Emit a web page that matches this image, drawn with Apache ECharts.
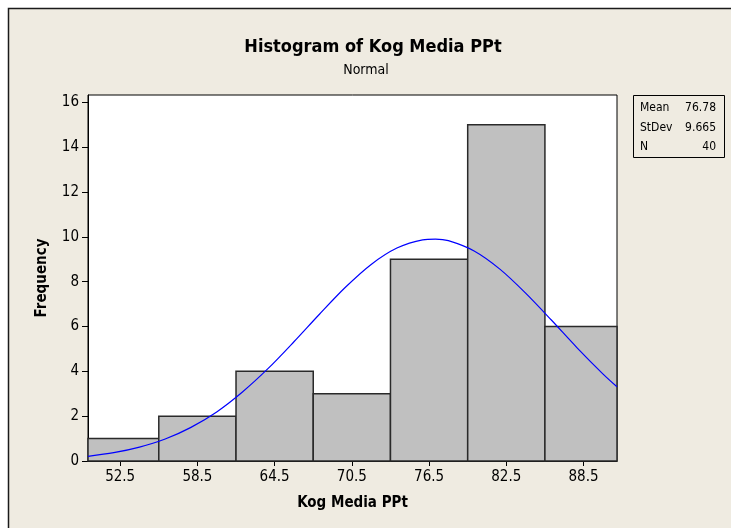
<!DOCTYPE html>
<html><head><meta charset="utf-8">
<script src="https://cdn.jsdelivr.net/npm/echarts@6/dist/echarts.min.js"></script>
<style>html,body{margin:0;padding:0;background:#fff}#c{width:731px;height:528px}</style>
</head><body><div id="c"></div>
<script>
// ---- data ----
const binCenters = [52.5, 58.5, 64.5, 70.5, 76.5, 82.5, 88.5];
const frequencies = [1, 2, 4, 3, 9, 15, 6];
const binWidth = 6;
const yTicks = [0, 2, 4, 6, 8, 10, 12, 14, 16];
// fitted normal curve
const curveX = [50, 52, 54, 56, 58, 60, 62, 64, 66, 68, 70, 72, 74, 76, 77, 78, 80, 82, 84, 86, 88, 90, 91.1];
const curveY = [0.21, 0.37, 0.62, 0.98, 1.50, 2.19, 3.08, 4.13, 5.32, 6.56, 7.75, 8.77, 9.50, 9.87, 9.90, 9.83, 9.37, 8.56, 7.49, 6.29, 5.05, 3.89, 3.31];
const statLabels = ['Mean', 'StDev', 'N'];
const statValues = ['76.78', '9.665', '40'];
const titleText = 'Histogram of Kog Media PPt';
const subtitleText = 'Normal';
const xName = 'Kog Media PPt';
const yName = 'Frequency';

const FONT = '"DejaVu Sans Condensed", "DejaVu Sans", sans-serif';
const chart = echarts.init(document.getElementById('c'), null, {renderer: 'canvas'});

const barData = binCenters.map((c, i) => [c, frequencies[i]]);
const curveData = curveX.map((x, i) => [x, curveY[i]]);

const graphics = [
  {type: 'rect', shape: {x: 0, y: 0, width: 731, height: 8}, style: {fill: '#fff'}, silent: true},
  {type: 'rect', shape: {x: 0, y: 0, width: 8, height: 528}, style: {fill: '#fff'}, silent: true},
  {type: 'polyline', shape: {points: [[8.5, 528], [8.5, 8.5], [731, 8.5]]}, style: {stroke: '#1a1a1a', lineWidth: 1.5, fill: null}, silent: true},
  {type: 'text', x: 373, y: 47, style: {text: titleText, font: 'bold 18px ' + FONT, fill: '#000', align: 'center', verticalAlign: 'middle'}},
  {type: 'text', x: 366, y: 70, style: {text: subtitleText, font: '14px ' + FONT, fill: '#000', align: 'center', verticalAlign: 'middle'}},
  {type: 'rect', shape: {x: 633.5, y: 95.5, width: 91, height: 62}, style: {fill: 'none', stroke: '#000', lineWidth: 1}}
];
statLabels.forEach((s, i) => {
  graphics.push({type: 'text', x: 640, y: 108 + i * 19.5, style: {text: s, font: '12px ' + FONT, fill: '#000', align: 'left', verticalAlign: 'middle'}});
  graphics.push({type: 'text', x: 716, y: 108 + i * 19.5, style: {text: statValues[i], font: '12px ' + FONT, fill: '#000', align: 'right', verticalAlign: 'middle'}});
});

chart.setOption({
  backgroundColor: '#efebe1',
  animation: false,
  grid: {left: 88, top: 95, right: 114, bottom: 67, show: true, backgroundColor: '#fff', borderColor: '#000', borderWidth: 1},
  xAxis: {
    type: 'value', min: 50, max: 91.1,
    name: xName, nameLocation: 'middle', nameGap: 35,
    nameTextStyle: {fontFamily: FONT, fontWeight: 'bold', fontSize: 15, color: '#000'},
    axisLine: {show: true, onZero: false, lineStyle: {color: '#000', width: 1}},
    axisTick: {show: true, length: 5, customValues: binCenters, lineStyle: {color: '#000'}},
    axisLabel: {customValues: binCenters, margin: 9, fontFamily: FONT, fontSize: 15, color: '#000', formatter: v => v.toFixed(1)},
    splitLine: {show: false}
  },
  yAxis: {
    type: 'value', min: 0, max: 16.33,
    name: yName, nameLocation: 'middle', nameGap: 38, nameRotate: 90,
    nameTextStyle: {fontFamily: FONT, fontWeight: 'bold', fontSize: 15, color: '#000'},
    axisLine: {show: true, lineStyle: {color: '#000', width: 1}},
    axisTick: {show: true, length: 6, customValues: yTicks, lineStyle: {color: '#000'}},
    axisLabel: {customValues: yTicks, margin: 9, fontFamily: FONT, fontSize: 15, color: '#000'},
    splitLine: {show: false}
  },
  series: [
    {
      type: 'custom',
      data: barData,
      z: 2,
      renderItem: function (params, api) {
        const c = api.value(0), f = api.value(1);
        const p0 = api.coord([c - binWidth / 2, f]);
        const p1 = api.coord([c + binWidth / 2, 0]);
        const rect = echarts.graphic.clipRectByRect(
          {x: p0[0], y: p0[1], width: p1[0] - p0[0], height: p1[1] - p0[1]},
          {x: params.coordSys.x, y: params.coordSys.y, width: params.coordSys.width, height: params.coordSys.height});
        if (!rect) return;
        return {type: 'rect', shape: rect, style: {fill: '#c0c0c0', stroke: '#2a2a2a', lineWidth: 1.5}};
      }
    },
    {
      type: 'line', data: curveData, smooth: 0.3, showSymbol: false, z: 3,
      lineStyle: {color: '#0000ff', width: 1.2}, itemStyle: {color: '#0000ff'}
    }
  ],
  graphic: graphics
});
</script></body></html>
